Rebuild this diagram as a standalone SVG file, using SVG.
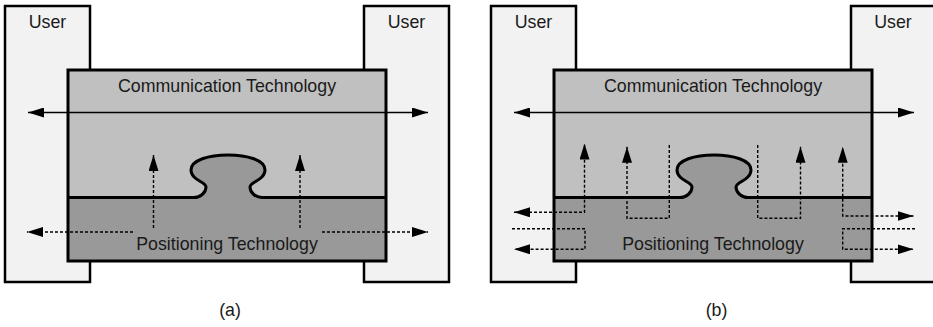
<svg xmlns="http://www.w3.org/2000/svg" width="933" height="327" viewBox="0 0 933 327">
<style>
.user{fill:#f2f2f2;stroke:#000;stroke-width:2.5}
.top{fill:#c0c0c0;stroke:none}
.bot{fill:#999999;stroke:none}
.edge{fill:none;stroke:#000;stroke-width:3;stroke-linejoin:round}
.frame{fill:none;stroke:#000;stroke-width:3}
.txt{font-family:"Liberation Sans",Arial,sans-serif;font-size:17.8px;fill:#1a1a1a;text-anchor:middle}
.solid{fill:none;stroke:#000;stroke-width:1.4}
.dash{fill:none;stroke:#000;stroke-width:1.4;stroke-dasharray:3 2}
</style>
<defs>
<marker id="ah" markerUnits="userSpaceOnUse" markerWidth="16" markerHeight="10" refX="16" refY="5" orient="auto-start-reverse" viewBox="0 0 16 10">
<path d="M0,0 L16,5 L0,10 Z" fill="#000"/>
</marker>
<path id="lower" d="M68,197.5 H194 C200,197.5 206,193 206,187 C206,182 191,180 191,170 C191,160 209,155 228,155 C247,155 265,160 265,170 C265,180 250,182 250,187 C250,193 256,197.5 262,197.5 H386 V261 H68 Z"/>
<path id="seam" d="M68,197.5 H194 C200,197.5 206,193 206,187 C206,182 191,180 191,170 C191,160 209,155 228,155 C247,155 265,160 265,170 C265,180 250,182 250,187 C250,193 256,197.5 262,197.5 H386"/>
</defs>

<!-- Panel (a) -->
<g id="a-user-left"><rect class="user" x="5" y="6" width="85" height="276"/><text class="txt" x="47.5" y="28">User</text></g>
<g id="a-user-right"><rect class="user" x="364" y="6" width="85" height="276"/><text class="txt" x="406.5" y="28">User</text></g>
<g id="a-tech">
<rect class="top" x="68" y="70" width="318" height="191"/>
<use href="#lower" class="bot"/>
<use href="#seam" class="edge"/>
<rect class="frame" x="68" y="70" width="318" height="191"/>
<text class="txt" x="227" y="92">Communication Technology</text>
<text class="txt" x="227" y="250">Positioning Technology</text>
</g>
<g id="a-connectors">
<path class="solid" d="M28,112.5 H428" marker-start="url(#ah)" marker-end="url(#ah)"/>
<path class="dash" d="M153.5,228 V155" marker-end="url(#ah)"/>
<path class="dash" d="M300,228 V155" marker-end="url(#ah)"/>
<path class="dash" d="M133,232 H27" marker-end="url(#ah)"/>
<path class="dash" d="M322,232 H428" marker-end="url(#ah)"/>
</g>
<text id="a-label" class="txt" x="230" y="316">(a)</text>

<!-- Panel (b) -->
<g id="b-user-left"><rect class="user" x="491" y="6" width="85" height="276"/><text class="txt" x="533.5" y="28">User</text></g>
<g id="b-user-right"><rect class="user" x="851" y="6" width="85" height="276"/><text class="txt" x="893" y="28">User</text></g>
<g id="b-tech" transform="translate(486,0)">
<rect class="top" x="68" y="70" width="318" height="191"/>
<use href="#lower" class="bot"/>
<use href="#seam" class="edge"/>
<rect class="frame" x="68" y="70" width="318" height="191"/>
<text class="txt" x="227" y="92">Communication Technology</text>
<text class="txt" x="227" y="250">Positioning Technology</text>
</g>
<g id="b-connectors">
<path class="solid" d="M514,112.5 H914" marker-start="url(#ah)" marker-end="url(#ah)"/>
<path class="dash" d="M514,212.3 H584.5 V143.5" marker-start="url(#ah)" marker-end="url(#ah)"/>
<path class="dash" d="M669.3,145 V218.3 H627 V146.7" marker-end="url(#ah)"/>
<path class="dash" d="M512,228.7 H585 V249.3 H514" marker-end="url(#ah)"/>
<path class="dash" d="M757.7,145 V218.3 H800.5 V146.7" marker-end="url(#ah)"/>
<path class="dash" d="M913.5,216 H842.7 V146.7" marker-start="url(#ah)" marker-end="url(#ah)"/>
<path class="dash" d="M915,228.7 H842.7 V249.3 H913.5" marker-end="url(#ah)"/>
</g>
<text id="b-label" class="txt" x="716.5" y="316">(b)</text>
</svg>
